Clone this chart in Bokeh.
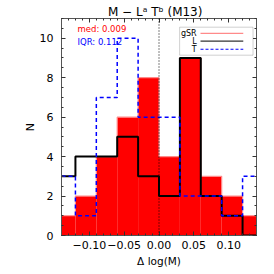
from bokeh.plotting import figure
from bokeh.models import (LinearAxis, SingleIntervalTicker, Label, BoxAnnotation,
                          Span, CustomJSTickFormatter)
from bokeh.embed import file_html
from bokeh.resources import INLINE

# ---- data ----
bin_edges = [-0.15, -0.12, -0.09, -0.06, -0.03, 0.0, 0.03, 0.06, 0.09, 0.12, 0.15]
n_gsr = [1, 2, 4, 6, 8, 4, 9, 3, 2, 1]
n_L = [3, 4, 4, 5, 3, 2, 9, 2, 1, 0]
n_T = [3, 1, 7, 10, 6, 6, 2, 2, 1, 3]
legend_names = ["gSR", "L", "T"]
title_text = "M  −  Lᵃ Tᵇ (M13)"
med_text = "med: 0.009"
iqr_text = "IQR: 0.112"
x_label = "Δ log(M)"
y_label = "N"

FONT = "DejaVu Sans"
RED = "#ff0000"
SALMON = "#ff8a8a"
BLUE = "#0000ff"
FRAME = "#555555"

p = figure(width=274, height=274, x_range=(-0.14, 0.14), y_range=(0, 11),
           output_backend="svg", toolbar_location=None,
           min_border_left=61, min_border_right=18, min_border_top=18,
           min_border_bottom=39)
p.title.text = title_text
p.title.align = "center"
p.title.text_font = FONT
p.title.text_font_size = "12px"
p.title.text_font_style = "normal"
p.title.text_color = "black"
p.title.standoff = 0
p.title.offset = 0
p.title.text_line_height = 1.0
p.xgrid.visible = False
p.ygrid.visible = False
p.outline_line_color = FRAME
p.background_fill_color = "white"
p.border_fill_color = "white"

bottom_ax = p.xaxis[0]
left_ax = p.yaxis[0]

# filled gSR histogram
p.quad(left=bin_edges[:-1], right=bin_edges[1:], bottom=0, top=n_gsr,
       fill_color=RED, line_color=None)
p.step(x=bin_edges, y=n_gsr + [n_gsr[-1]], mode="after", line_color=SALMON, line_width=1.2)
p.step(x=bin_edges, y=n_L + [n_L[-1]], mode="after", line_color="black", line_width=2)
p.step(x=bin_edges, y=n_T + [n_T[-1]], mode="after", line_color=BLUE, line_width=1.5,
       line_dash="4 3")

p.add_layout(Span(location=0, dimension="height", line_color="black",
                  line_dash="1 2", line_width=1))

# axes
xt = SingleIntervalTicker(interval=0.05, num_minor_ticks=5)
yt = SingleIntervalTicker(interval=2, num_minor_ticks=4)
bottom_ax.ticker = xt
left_ax.ticker = yt
bottom_ax.formatter = CustomJSTickFormatter(code="return tick.toFixed(2).replace('-', '\u2212');")
left_ax.formatter = CustomJSTickFormatter(code="return tick.toFixed(0);")

top_ax = LinearAxis(ticker=xt, formatter=CustomJSTickFormatter(code="return '';"))
right_ax = LinearAxis(ticker=yt, formatter=CustomJSTickFormatter(code="return '';"))
p.add_layout(top_ax, "above")
p.add_layout(right_ax, "right")

for ax in [bottom_ax, left_ax, top_ax, right_ax]:
    ax.major_tick_in = 4
    ax.major_tick_out = 0
    ax.minor_tick_in = 2
    ax.minor_tick_out = 0
    ax.axis_line_color = FRAME
    ax.major_tick_line_color = "#333333"
    ax.minor_tick_line_color = "#333333"
    ax.major_label_text_font = FONT
    ax.major_label_text_font_size = "11px"
    ax.major_label_text_color = "black"
    ax.axis_label_text_font = FONT
    ax.axis_label_text_font_style = "normal"
    ax.axis_label_text_color = "black"

top_ax.major_label_standoff = 0
top_ax.major_label_text_font_size = "1px"
right_ax.major_label_standoff = 0
left_ax.major_label_standoff = 8
bottom_ax.major_label_standoff = 5
bottom_ax.axis_label = x_label
bottom_ax.axis_label_text_font_size = "10.5px"
bottom_ax.axis_label_standoff = 3
left_ax.axis_label = y_label
left_ax.axis_label_text_font_size = "11px"
left_ax.axis_label_standoff = 0

# med / IQR
p.add_layout(Label(x=-0.117, y=10.46, text=med_text, text_align="left",
                   text_baseline="middle", text_font=FONT, text_font_size="8.5px",
                   text_color=RED))
p.add_layout(Label(x=-0.117, y=9.8, text=iqr_text, text_align="left",
                   text_baseline="middle", text_font=FONT, text_font_size="8.5px",
                   text_color=BLUE))

# legend
p.add_layout(BoxAnnotation(left=0.0296, right=0.135, bottom=9.14, top=10.56,
                           fill_color="white", fill_alpha=1.0, line_color="#666666",
                           line_width=1, level="annotation"))
leg_y = [10.25, 9.85, 9.44]
leg_colors = [SALMON, "#333333", BLUE]
leg_dash = ["solid", "solid", "3 2"]
for name, yy, col, dsh in zip(legend_names, leg_y, leg_colors, leg_dash):
    p.add_layout(Label(x=0.054, y=yy, text=name, text_align="right",
                       text_baseline="middle", text_font=FONT, text_font_size="8px",
                       text_color="black"))
    p.segment(x0=[0.0596], y0=[yy], x1=[0.121], y1=[yy], line_color=col,
              line_width=1.2, line_dash=dsh, level="overlay")

open("out.html", "w").write(file_html(p, INLINE))
